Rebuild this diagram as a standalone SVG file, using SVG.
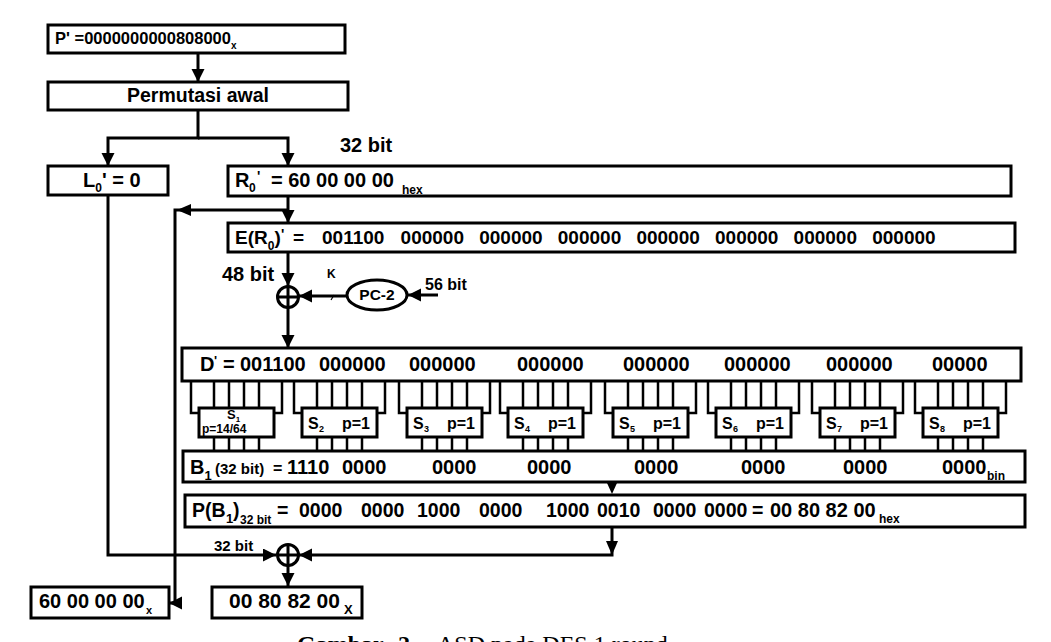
<svg xmlns="http://www.w3.org/2000/svg" width="1051" height="642" viewBox="0 0 1051 642">
<defs>
<style>
.box{fill:#fff;stroke:#000;stroke-width:3}
.ln{fill:none;stroke:#000;stroke-width:3}
.w{fill:none;stroke:#000;stroke-width:2.5}
.t{font-family:"Liberation Sans",Arial,sans-serif;font-weight:bold;fill:#000}
.cap{font-family:"Liberation Serif","Times New Roman",serif;fill:#000;font-size:24px}
</style>
<marker id="ah" markerUnits="userSpaceOnUse" markerWidth="14" markerHeight="14" refX="13" refY="6.5" orient="auto">
<path d="M0,0 L13,6.5 L0,13 z" fill="#000"/>
</marker>
</defs>
<rect width="1051" height="642" fill="#fff"/>

<g id="connectors">
<path class="ln" d="M198,53 V82" marker-end="url(#ah)"/>
<path class="ln" d="M198,110 V138 H108 V166" marker-end="url(#ah)"/>
<path class="ln" d="M198,138 H288 V166" marker-end="url(#ah)"/>
<path class="ln" d="M288,196 V223" marker-end="url(#ah)"/>
<path class="ln" d="M288,210 H175 V603 H169" marker-end="url(#ah)"/>
<polygon points="177,210 191,204 191,216" fill="#000"/>
<path class="ln" d="M288,252 V286" marker-end="url(#ah)"/>
<path class="ln" d="M347,296 H299" marker-end="url(#ah)"/>
<line x1="331" y1="300" x2="334" y2="295" stroke="#000" stroke-width="1.2"/>
<path class="ln" d="M438,295 H408" marker-end="url(#ah)"/>
<path class="ln" d="M288,308 V348" marker-end="url(#ah)"/>
<path class="ln" d="M108,195 V555 H276" marker-end="url(#ah)"/>
<path class="ln" d="M612,527 V555 H299" marker-end="url(#ah)"/>
<polygon points="612,555 606,541 618,541" fill="#000"/>
<polygon points="612,494 607,483 617,483" fill="#000"/>
<path class="ln" d="M288,566 V586" marker-end="url(#ah)"/>
<g class="w">
<path d="M191,381 V413 H199 M282,381 V413 H274 M214,381 V408 M229,381 V408 M244,381 V408 M259,381 V408 M214,437 V451 M229,437 V451 M244,437 V451 M259,437 V451"/>
<path d="M294,381 V413 H302 M385,381 V413 H377 M317,381 V408 M332,381 V408 M347,381 V408 M362,381 V408 M317,437 V451 M332,437 V451 M347,437 V451 M362,437 V451"/>
<path d="M399,381 V413 H407 M490,381 V413 H482 M422,381 V408 M437,381 V408 M452,381 V408 M467,381 V408 M422,437 V451 M437,437 V451 M452,437 V451 M467,437 V451"/>
<path d="M500,381 V413 H508 M591,381 V413 H583 M523,381 V408 M538,381 V408 M553,381 V408 M568,381 V408 M523,437 V451 M538,437 V451 M553,437 V451 M568,437 V451"/>
<path d="M605,381 V413 H613 M696,381 V413 H688 M628,381 V408 M643,381 V408 M658,381 V408 M673,381 V408 M628,437 V451 M643,437 V451 M658,437 V451 M673,437 V451"/>
<path d="M708,381 V413 H716 M799,381 V413 H791 M731,381 V408 M746,381 V408 M761,381 V408 M776,381 V408 M731,437 V451 M746,437 V451 M761,437 V451 M776,437 V451"/>
<path d="M812,381 V413 H820 M903,381 V413 H895 M835,381 V408 M850,381 V408 M865,381 V408 M880,381 V408 M835,437 V451 M850,437 V451 M865,437 V451 M880,437 V451"/>
<path d="M915,381 V413 H923 M1006,381 V413 H998 M938,381 V408 M953,381 V408 M968,381 V408 M983,381 V408 M938,437 V451 M953,437 V451 M968,437 V451 M983,437 V451"/>
</g>
</g>

<g id="plaintext">
<rect class="box" x="48" y="25" width="297" height="28"/>
<text class="t" x="55" y="44" font-size="16.5">P' =0000000000808000<tspan font-size="10" dy="5">x</tspan></text>
</g>

<g id="permutasi">
<rect class="box" x="48" y="82" width="300" height="28"/>
<text class="t" x="198" y="102" font-size="19.5" text-anchor="middle">Permutasi awal</text>
</g>

<g id="label32top">
<text class="t" x="340" y="152" font-size="20">32 bit</text>
</g>

<g id="L0">
<rect class="box" x="48" y="166" width="120" height="29"/>
<text class="t" x="83" y="187" font-size="20">L<tspan font-size="12" dy="5">0</tspan><tspan dy="-5">' = 0</tspan></text>
</g>

<g id="R0">
<rect class="box" x="228" y="166" width="783" height="30"/>
<text class="t" x="235" y="187" font-size="20">R<tspan font-size="12" x="249" dy="5">0</tspan><tspan font-size="14" x="257" dy="-11">'</tspan><tspan x="271" dy="6">= 60 00 00 00</tspan><tspan font-size="12" x="402" dy="7">hex</tspan></text>
</g>

<g id="E">
<rect class="box" x="228" y="223" width="787" height="29"/>
<text class="t" x="235" y="244" font-size="19">E(R<tspan font-size="12" dy="6">0</tspan><tspan dy="-6">)</tspan><tspan font-size="14" x="281" dy="-5">'</tspan><tspan x="293" dy="5">=</tspan><tspan x="322">001100</tspan><tspan x="400.6">000000</tspan><tspan x="479.2">000000</tspan><tspan x="557.8">000000</tspan><tspan x="636.4">000000</tspan><tspan x="715">000000</tspan><tspan x="793.6">000000</tspan><tspan x="872.2">000000</tspan></text>
</g>

<g id="labels48">
<text class="t" x="222" y="281" font-size="20">48 bit</text>
<text class="t" x="327" y="278" font-size="12">K</text>
<text class="t" x="425" y="290" font-size="16">56 bit</text>
</g>

<g id="xor1">
<circle cx="288" cy="297" r="10.5" fill="#fff" stroke="#000" stroke-width="3"/>
<path class="ln" d="M277.5,297 H298.5 M288,286.5 V307.5"/>
</g>

<g id="pc2">
<ellipse cx="377" cy="295" rx="30" ry="15" fill="#fff" stroke="#000" stroke-width="3"/>
<text class="t" x="377" y="300" font-size="15.5" text-anchor="middle">PC-2</text>
</g>

<g id="D">
<rect class="box" x="182" y="348" width="839" height="33"/>
<text class="t" x="200" y="371" font-size="20">D<tspan font-size="13" x="214" dy="-6">'</tspan><tspan x="223" dy="6">=</tspan><tspan x="240">001100</tspan><tspan x="319">000000</tspan><tspan x="409">000000</tspan><tspan x="517">000000</tspan><tspan x="623">000000</tspan><tspan x="724">000000</tspan><tspan x="826">000000</tspan><tspan x="932">00000</tspan></text>
</g>

<g id="S1">
<rect class="box" x="199" y="408" width="75" height="29"/>
<text class="t" x="227" y="419" font-size="13">S<tspan font-size="8" dy="3">1</tspan></text>
<text class="t" x="202" y="433" font-size="12">p=14/64</text>
</g>
<g id="S2">
<rect class="box" x="302" y="408" width="75" height="29"/>
<text class="t" x="308" y="429" font-size="16">S<tspan font-size="9" x="319" dy="3">2</tspan><tspan x="342" dy="-3">p=1</tspan></text>
</g>
<g id="S3">
<rect class="box" x="407" y="408" width="75" height="29"/>
<text class="t" x="413" y="429" font-size="16">S<tspan font-size="9" x="424" dy="3">3</tspan><tspan x="447" dy="-3">p=1</tspan></text>
</g>
<g id="S4">
<rect class="box" x="508" y="408" width="75" height="29"/>
<text class="t" x="514" y="429" font-size="16">S<tspan font-size="9" x="525" dy="3">4</tspan><tspan x="548" dy="-3">p=1</tspan></text>
</g>
<g id="S5">
<rect class="box" x="613" y="408" width="75" height="29"/>
<text class="t" x="619" y="429" font-size="16">S<tspan font-size="9" x="630" dy="3">5</tspan><tspan x="653" dy="-3">p=1</tspan></text>
</g>
<g id="S6">
<rect class="box" x="716" y="408" width="75" height="29"/>
<text class="t" x="722" y="429" font-size="16">S<tspan font-size="9" x="733" dy="3">6</tspan><tspan x="756" dy="-3">p=1</tspan></text>
</g>
<g id="S7">
<rect class="box" x="820" y="408" width="75" height="29"/>
<text class="t" x="826" y="429" font-size="16">S<tspan font-size="9" x="837" dy="3">7</tspan><tspan x="860" dy="-3">p=1</tspan></text>
</g>
<g id="S8">
<rect class="box" x="923" y="408" width="75" height="29"/>
<text class="t" x="929" y="429" font-size="16">S<tspan font-size="9" x="940" dy="3">8</tspan><tspan x="963" dy="-3">p=1</tspan></text>
</g>

<g id="B1">
<rect class="box" x="183" y="451" width="842" height="31"/>
<text class="t" x="190" y="474" font-size="20">B<tspan font-size="13" dy="6">1</tspan><tspan font-size="15" x="215" dy="-6">(32 bit)</tspan><tspan font-size="16" x="273">=</tspan><tspan x="287">1110</tspan><tspan x="342">0000</tspan><tspan x="432">0000</tspan><tspan x="527">0000</tspan><tspan x="634">0000</tspan><tspan x="741">0000</tspan><tspan x="843">0000</tspan><tspan x="942">0000</tspan><tspan font-size="12" x="987" dy="6">bin</tspan></text>
</g>

<g id="PB1">
<rect class="box" x="185" y="495" width="840" height="32"/>
<text class="t" x="192" y="517" font-size="19.5">P(B<tspan font-size="13" x="226" dy="6">1</tspan><tspan x="233" dy="-6">)</tspan><tspan font-size="12" x="240" dy="7">32 bit</tspan><tspan x="277" dy="-7">=</tspan><tspan x="299">0000</tspan><tspan x="361">0000</tspan><tspan x="417">1000</tspan><tspan x="479">0000</tspan><tspan x="546">1000</tspan><tspan x="597">0010</tspan><tspan x="653">0000</tspan><tspan x="704">0000</tspan><tspan x="752">=</tspan><tspan x="770" font-size="20">00 80 82 00</tspan><tspan font-size="12" x="879" dy="6">hex</tspan></text>
</g>

<g id="label32bottom">
<text class="t" x="214" y="551" font-size="15">32 bit</text>
</g>

<g id="xor2">
<circle cx="288" cy="555" r="10.5" fill="#fff" stroke="#000" stroke-width="3"/>
<path class="ln" d="M277.5,555 H298.5 M288,544.5 V565.5"/>
</g>

<g id="outL">
<rect class="box" x="31" y="587" width="138" height="31"/>
<text class="t" x="39" y="608" font-size="20">60 00 00 00<tspan font-size="11" x="146" dy="6">x</tspan></text>
</g>

<g id="outR">
<rect class="box" x="212" y="587" width="150" height="31"/>
<text class="t" x="229" y="608" font-size="21">00 80 82 00<tspan font-size="13" x="344" dy="6">X</tspan></text>
</g>

<g id="caption">
<text class="cap" y="652"><tspan x="297" font-weight="bold">Gambar</tspan><tspan x="398" font-weight="bold">2.</tspan><tspan x="437">ASD pada DES 1 round</tspan></text>
</g>
</svg>
